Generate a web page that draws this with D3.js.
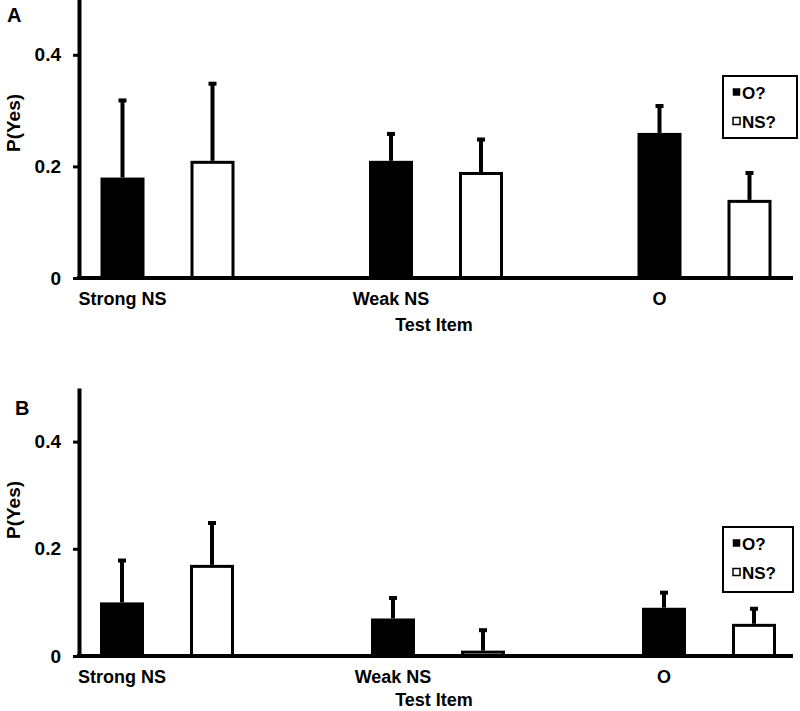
<!DOCTYPE html>
<html>
<head>
<meta charset="utf-8">
<script src="https://cdn.jsdelivr.net/npm/d3@7"></script>
<style>
  html, body { margin: 0; padding: 0; background: #fff; }
  svg { display: block; font-family: "Liberation Sans", Arial, sans-serif; font-weight: bold; }
</style>
</head>
<body>
<svg id="chart" width="800" height="711"></svg>
<script>
// ---- data ----
const categories = ["Strong NS", "Weak NS", "O"];
const series = ["O?", "NS?"];
const yTicks = [0, 0.2, 0.4];

// Panel A
const panelA_O = [0.18, 0.21, 0.26];
const panelA_O_err = [0.14, 0.05, 0.05];
const panelA_NS = [0.21, 0.19, 0.14];
const panelA_NS_err = [0.14, 0.06, 0.05];

// Panel B
const panelB_O = [0.10, 0.07, 0.09];
const panelB_O_err = [0.08, 0.04, 0.03];
const panelB_NS = [0.17, 0.01, 0.06];
const panelB_NS_err = [0.08, 0.04, 0.03];

const xTitle = "Test Item";
const yTitle = "P(Yes)";

// ---- layout ----
const svg = d3.select("#chart");
const axisX = 79;
const barW = 44;

const panels = [
  { label: "A", O: panelA_O, Oe: panelA_O_err, NS: panelA_NS, NSe: panelA_NS_err,
    y0: 278, yTop: -1, catRange: [122.5, 659.5], labelPos: [7, 22], yTitleY: 123, titleOff: 53,
    legend: { x: 723, y: 76, w: 74, h: 62, r1: 92, r2: 121 } },
  { label: "B", O: panelB_O, Oe: panelB_O_err, NS: panelB_NS, NSe: panelB_NS_err,
    y0: 656, yTop: 388, catRange: [122, 664], labelPos: [15, 415], yTitleY: 510, titleOff: 50,
    legend: { x: 723, y: 527, w: 70, h: 65, r1: 543, r2: 572 } }
];

panels.forEach(p => {
  const g = svg.append("g");
  const y = d3.scaleLinear().domain([0, 0.5]).range([p.y0, p.yTop]);
  const xCat = d3.scalePoint().domain(categories).range(p.catRange);
  const xSer = d3.scalePoint().domain(series).range([0, 90]);

  const rows = [];
  categories.forEach((c, i) => {
    rows.push({ c, s: "O?", v: p.O[i], e: p.Oe[i] });
    rows.push({ c, s: "NS?", v: p.NS[i], e: p.NSe[i] });
  });

  // error bars
  rows.forEach(d => {
    const cx = xCat(d.c) + xSer(d.s);
    g.append("line")
      .attr("x1", cx).attr("x2", cx)
      .attr("y1", y(d.v)).attr("y2", y(d.v + d.e))
      .attr("stroke", "#000").attr("stroke-width", 4);
    g.append("rect")
      .attr("x", cx - 4).attr("y", y(d.v + d.e) - 1)
      .attr("width", 8).attr("height", 4).attr("fill", "#000");
  });

  // bars
  rows.forEach(d => {
    const cx = xCat(d.c) + xSer(d.s);
    const black = d.s === "O?";
    g.append("rect")
      .attr("x", cx - barW / 2 + (black ? 0 : 1.5))
      .attr("y", y(d.v) + (black ? 0 : 1.5))
      .attr("width", barW - (black ? 0 : 3))
      .attr("height", Math.max(0, y(0) - y(d.v) - (black ? 0 : 1.5)))
      .attr("fill", black ? "#000" : "#fff")
      .attr("stroke", black ? "none" : "#000")
      .attr("stroke-width", 3);
  });

  // x baseline
  g.append("line")
    .attr("x1", axisX - 2).attr("x2", 793)
    .attr("y1", y(0)).attr("y2", y(0))
    .attr("stroke", "#000").attr("stroke-width", 4);

  // y axis
  const ax = g.append("g")
    .attr("transform", `translate(${axisX},0)`)
    .call(d3.axisLeft(y).tickValues(yTicks)
      .tickFormat(d => d === 0 ? "0" : d.toFixed(1))
      .tickSize(6).tickSizeOuter(0).tickPadding(12));
  ax.select(".domain").attr("stroke", "#000").attr("stroke-width", 4);
  ax.selectAll(".tick line").attr("stroke", "#000").attr("stroke-width", 3);
  ax.selectAll(".tick text")
    .attr("font-size", 19).attr("font-weight", "bold")
    .attr("font-family", "Liberation Sans, Arial, sans-serif").attr("fill", "#000");

  // category labels
  categories.forEach(c => {
    g.append("text")
      .attr("x", xCat(c)).attr("y", y(0) + 27)
      .attr("text-anchor", "middle").attr("font-size", 18)
      .text(c);
  });

  // axis titles
  g.append("text")
    .attr("x", 434).attr("y", y(0) + p.titleOff)
    .attr("text-anchor", "middle").attr("font-size", 18)
    .text(xTitle);
  g.append("text")
    .attr("transform", `translate(20,${p.yTitleY}) rotate(-90)`)
    .attr("text-anchor", "middle").attr("font-size", 19)
    .text(yTitle);

  // panel label
  g.append("text")
    .attr("x", p.labelPos[0]).attr("y", p.labelPos[1])
    .attr("font-size", 20).text(p.label);

  // legend
  const L = p.legend;
  g.append("rect")
    .attr("x", L.x).attr("y", L.y).attr("width", L.w).attr("height", L.h)
    .attr("fill", "#fff").attr("stroke", "#000").attr("stroke-width", 2);
  [[series[0], L.r1, true], [series[1], L.r2, false]].forEach(([name, ry, black]) => {
    g.append("rect")
      .attr("x", L.x + 10).attr("y", ry - 3.5)
      .attr("width", 7).attr("height", 7)
      .attr("fill", black ? "#000" : "#fff")
      .attr("stroke", "#000").attr("stroke-width", black ? 0.5 : 1.5);
    g.append("text")
      .attr("x", L.x + 19).attr("y", ry + 6.5)
      .attr("font-size", 17).text(name);
  });
});
</script>
</body>
</html>
